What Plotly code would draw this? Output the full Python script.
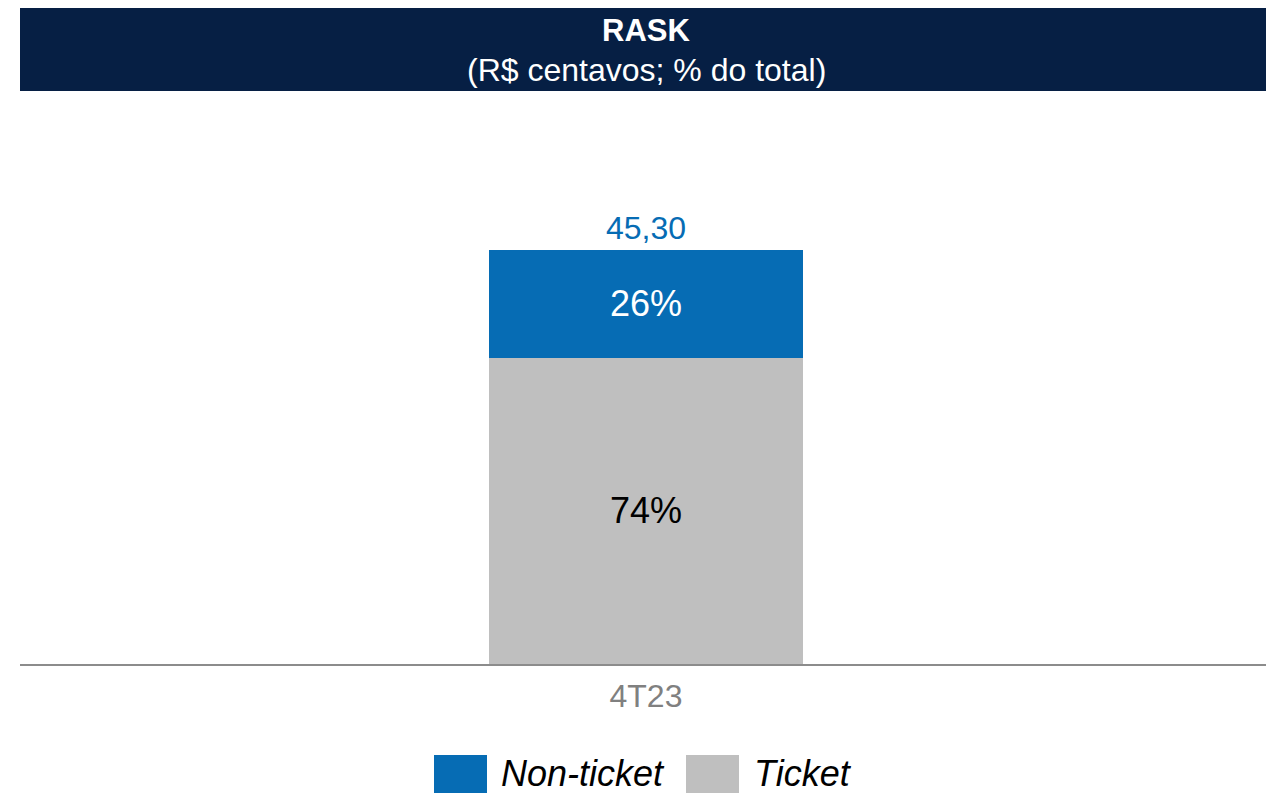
import plotly.graph_objects as go

categories = ["4T23"]
series_names = ["Ticket", "Non-ticket"]
ticket_pct = [74]
nonticket_pct = [26]
total_rask = ["45,30"]

colors = {"Ticket": "#BFBFBF", "Non-ticket": "#066CB4"}
text_colors = {"Ticket": "#000000", "Non-ticket": "#FFFFFF"}
FONT = "Liberation Sans, Arial, sans-serif"

W_FIG, H_FIG = 1266, 793
ML, MR, MT, MB = 20, 0, 110, 129
H = H_FIG - MT - MB
W = W_FIG - ML - MR


def py(px):
    return (H_FIG - MB - px) / H


def pxx(px):
    return (px - ML) / W


fig = go.Figure()
for name, vals in [("Ticket", ticket_pct), ("Non-ticket", nonticket_pct)]:
    fig.add_trace(go.Bar(
        x=categories, y=vals, name=name,
        marker=dict(color=colors[name], line=dict(width=0)),
        width=0.252,
        text=[f"{v}%" for v in vals], textposition="inside",
        insidetextanchor="middle",
        textfont=dict(color=text_colors[name], size=36, family=FONT),
        showlegend=False,
    ))

totals = [a + b for a, b in zip(ticket_pct, nonticket_pct)]
for c, t, lbl in zip(categories, totals, total_rask):
    fig.add_annotation(x=c, y=t, text=lbl, showarrow=False, yanchor="bottom",
                       yshift=2, font=dict(color="#066CB4", size=32, family=FONT))

# header band
fig.add_shape(type="rect", xref="paper", yref="paper", x0=0, x1=1,
              y0=py(91), y1=py(8),
              fillcolor="#061F44", line=dict(width=0), layer="below")
fig.add_annotation(xref="paper", yref="paper", x=pxx(646), y=py(31), yanchor="middle",
                   text="<b>RASK</b>", showarrow=False,
                   font=dict(color="white", size=31, family=FONT))
fig.add_annotation(xref="paper", yref="paper", x=pxx(646), y=py(70), yanchor="middle",
                   text="(R$ centavos; % do total)", showarrow=False,
                   font=dict(color="white", size=32, family=FONT))

# custom legend
legend_items = [("Non-ticket", 434, 499), ("Ticket", 686, 752)]
for name, sx, tx in legend_items:
    fig.add_shape(type="rect", xref="paper", yref="paper", x0=pxx(sx), x1=pxx(sx + 53),
                  y0=py(795), y1=py(755), fillcolor=colors[name], line=dict(width=0))
    fig.add_annotation(xref="paper", yref="paper", x=pxx(tx), y=py(773), xanchor="left",
                       yanchor="middle", text=f"<i>{name}</i>", showarrow=False,
                       font=dict(color="black", size=36, family=FONT))

fig.update_layout(
    barmode="stack",
    width=W_FIG, height=H_FIG,
    margin=dict(l=ML, r=MR, t=MT, b=MB),
    plot_bgcolor="white", paper_bgcolor="white",
    font=dict(family=FONT),
    xaxis=dict(showline=True, linecolor="#8C8C8C", linewidth=2, ticks="",
               tickfont=dict(color="#808080", size=32, family=FONT),
               ticklabelstandoff=3,
               range=[-0.5024, 0.4976], fixedrange=True),
    yaxis=dict(visible=False, range=[0, 554 / 414 * 100], fixedrange=True),
    showlegend=False,
)

fig.write_html("out.html", config={"displayModeBar": False},
               post_script="document.body.style.margin='0';document.body.style.overflow='hidden';")
